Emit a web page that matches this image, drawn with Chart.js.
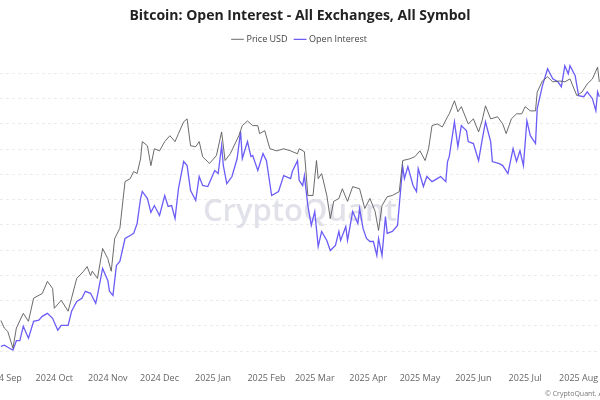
<!DOCTYPE html>
<html>
<head>
<meta charset="utf-8">
<script src="https://cdn.jsdelivr.net/npm/chart.js@4/dist/chart.umd.min.js"></script>
<style>
html, body { margin: 0; padding: 0; background: #fff; overflow: hidden; }
#wrap { position: absolute; left: -40px; top: 0; width: 680px; height: 400px; }
</style>
</head>
<body>
<div id="wrap"><canvas id="oiChart"></canvas></div>
<script>
// days since 2024-09-01
const priceDays = [-1,1,3,6,8,12,15,18,23,26,29,30,34,38,40,43,47,49,51,52,55,58,61,63,65,68,71,74,76,78,80,81,84,86,88,91,94,97,100,102,105,107,109,112,114,116,120,124,127,129,132,137,139,142,145,148,149,152,155,159,163,167,171,172,175,177,180,182,183,185,188,190,192,195,197,200,203,207,210,213,216,218,220,223,226,230,232,236,239,242,245,247,249,252,255,258,259,262,264,266,270,273,276,278,280,283,287,290,292,295,298,301,303,306,309,310,313,316,319,323,326,329,333,336,339,342,345,346];
const priceUSD = [61.3,59.5,58.7,54.7,59.5,63.0,61.1,66.6,67.7,70.6,68.9,64.2,66.1,63.5,66.6,71.3,73.0,74.1,72.0,73.0,71.3,78.4,76.0,73.0,80.8,83.2,94.3,95.0,96.7,96.2,99.7,103.8,102.8,98.1,102.1,101.6,103.8,105.2,103.8,105.7,108.5,109.2,102.8,102.6,103.8,100.2,98.6,100.5,106.1,99.3,100.9,105.2,107.6,108.7,107.6,107.6,105.7,106.4,102.1,101.6,102.1,101.6,100.9,102.1,101.4,91.0,91.0,99.3,95.0,96.2,91.0,85.5,89.6,90.3,92.6,89.6,93.1,92.6,87.9,90.3,87.2,82.7,88.6,90.7,91.0,91.9,99.3,99.7,100.2,101.6,99.3,102.1,107.6,108.0,107.3,109.7,110.4,113.5,110.9,112.1,108.0,109.2,106.1,108.7,112.3,109.2,109.7,108.0,105.7,109.2,110.4,110.4,112.1,111.1,111.1,115.6,118.2,119.2,118.0,118.2,118.0,118.7,114.7,115.6,117.5,118.7,121.5,118.0];

const oiDays = [-1,1,4,6,8,10,12,15,18,21,23,26,29,32,34,38,40,43,46,48,51,54,55,58,61,62,64,66,68,71,74,76,78,80,81,84,86,88,91,94,96,98,100,102,105,107,109,112,114,116,119,123,125,127,128,130,133,136,138,139,142,144,145,148,151,153,156,160,163,167,168,171,172,174,175,177,179,181,183,185,188,190,193,195,196,199,200,203,206,207,209,211,213,215,217,218,220,222,223,226,229,230,232,233,235,238,240,241,244,246,249,252,254,257,258,259,262,264,266,269,270,273,276,278,280,283,284,288,290,293,296,298,300,302,304,306,309,310,313,316,319,322,324,326,328,329,332,334,337,339,342,344,345,346];
const oiValues = [28.33,28.4,28.2,28.07,28.7,28.7,29.67,28.87,30.0,30.07,30.33,30.53,30.2,29.4,29.73,29.73,30.67,31.33,31.53,32.0,31.87,31.2,31.73,33.53,32.73,32.0,31.73,33.73,34.0,35.53,35.73,35.87,36.53,38.2,38.67,38.2,37.27,37.73,37.07,38.4,37.67,37.73,36.87,38.87,40.67,40.4,38.73,38.07,39.67,39.07,39.0,40.07,39.87,41.73,40.4,39.2,39.67,40.87,42.67,40.87,42.0,41.0,41.07,40.07,41.2,40.73,38.4,38.67,39.73,39.53,40.0,40.73,39.4,39.07,39.73,37.73,36.4,37.33,35.0,36.0,35.4,34.73,35.07,36.0,35.4,36.33,35.4,37.33,36.53,37.53,36.2,35.53,35.33,35.33,34.4,35.53,34.4,37.0,35.87,36.0,36.4,37.73,40.33,39.53,40.33,39.07,38.67,40.2,39.0,39.67,39.33,39.53,39.67,39.33,40.67,41.0,43.33,41.67,43.07,42.73,42.0,41.87,40.73,42.07,43.33,42.0,40.67,40.53,40.4,39.87,41.53,40.67,41.4,40.4,43.4,42.4,41.87,44.2,45.73,46.87,46.2,46.0,45.67,47.07,46.53,47.07,46.4,45.07,45.0,45.33,44.87,44.07,45.33,45.0];

const monthDays = [0,30,61,91,122,153,181,212,242,273,303,334];
const monthLabels = ['2024 Sep','2024 Oct','2024 Nov','2024 Dec','2025 Jan','2025 Feb','2025 Mar','2025 Apr','2025 May','2025 Jun','2025 Jul','2025 Aug'];
const priceGrid = [54,60,66,72,78,84,90,96,102,108,114,120];

const watermark = {
	id: 'watermark',
	beforeInit(chart) {
		// a bit more room under the legend
		const fit = chart.legend.fit;
		chart.legend.fit = function() { fit.call(this); this.height += 7; };
	},
	beforeDatasetsDraw(chart) {
		const c = chart.ctx;
		c.save();
		c.fillStyle = 'rgba(200,200,215,0.55)';
		c.font = '600 31px "Open Sans", sans-serif';
		c.textAlign = 'center';
		c.textBaseline = 'middle';
		c.fillText('CryptoQuant', 340, 212);
		c.restore();
	},
	afterDraw(chart) {
		const c = chart.ctx;
		c.save();
		c.fillStyle = '#777';
		c.font = '7px "Open Sans", sans-serif';
		c.textAlign = 'left';
		c.fillText('\u00a9 CryptoQuant. All rights reserved', 585, 394);
		c.restore();
	}
};

const ctx = document.getElementById('oiChart').getContext('2d');
const oiChart = new Chart(ctx, {
	type: 'line',
	data: {
	datasets: [{
		label: 'Price USD',
		data: priceDays.map((d, i) => ({ x: d, y: priceUSD[i] })),
		borderColor: '#5a5a5a',
		borderWidth: 0.9,
		yAxisID: 'y',
		tension: 0,
		pointRadius: 0,
		pointStyle: 'line'
	},
	{
		label: 'Open Interest',
		data: oiDays.map((d, i) => ({ x: d, y: oiValues[i] })),
		borderColor: '#6b5cf6',
		borderWidth: 1.3,
		yAxisID: 'oiAxis',
		tension: 0,
		pointRadius: 0,
		pointStyle: 'line'
	}]
	},
	options: {
	animation: false,
	responsive: true,
	maintainAspectRatio: false,
	layout: { padding: { left: 40, right: 40, top: 0, bottom: 2 } },
	scales: {
		x: {
			type: 'linear',
			min: -1.5,
			max: 346.4,
			afterBuildTicks: s => { s.ticks = monthDays.map(v => ({ value: v })); },
			ticks: {
				autoSkip: false,
				maxRotation: 0,
				padding: 14,
				color: '#666',
				font: { size: 9, family: '"Open Sans", sans-serif' },
				callback: (v, i) => monthLabels[i]
			},
			grid: { display: false },
			border: { display: false }
		},
		y: {
			min: 54,
			max: 123,
			afterBuildTicks: s => { s.ticks = priceGrid.map(v => ({ value: v })); },
			ticks: { display: false },
			grid: { color: '#ececec', drawTicks: false },
			border: { display: false, dash: [3, 3] }
		},
		oiAxis: {
			display: false,
			min: 28,
			max: 47.4
		}
	},
	plugins: {
		title: {
			display: true,
			text: 'Bitcoin: Open Interest - All Exchanges, All Symbol',
			color: '#222',
			font: { size: 14, weight: 'bold', family: '"Open Sans", sans-serif' },
			padding: { top: 8, bottom: 2 }
		},
		legend: {
		labels: {
			usePointStyle: true,
			pointStyle: 'line',
			boxWidth: 10,
			color: '#444',
			font: { size: 9, family: '"Open Sans", sans-serif' },
			padding: 8
		}
		}
	}
	},
	plugins: [watermark]
});
</script>
</body>
</html>
